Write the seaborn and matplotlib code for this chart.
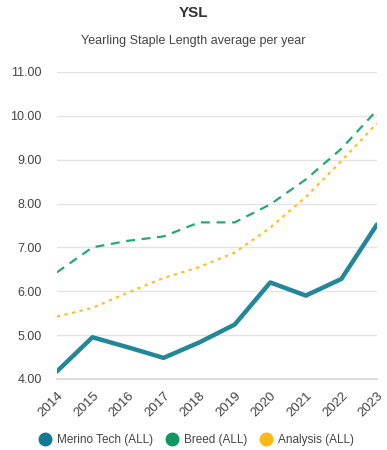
import matplotlib
matplotlib.use("Agg")
import matplotlib.pyplot as plt
import seaborn as sns
import pandas as pd
from matplotlib.lines import Line2D

years = [2014, 2015, 2016, 2017, 2018, 2019, 2020, 2021, 2022, 2023]
merino = [4.17, 4.95, 4.72, 4.48, 4.83, 5.24, 6.20, 5.90, 6.28, 7.52]
breed = [6.43, 7.00, 7.15, 7.25, 7.57, 7.57, 7.98, 8.55, 9.25, 10.13]
analysis = [5.42, 5.62, 5.97, 6.30, 6.55, 6.88, 7.45, 8.15, 8.97, 9.83]
names = ["Merino Tech (ALL)", "Breed (ALL)", "Analysis (ALL)"]

sns.set_style("white")
plt.rcParams["font.family"] = ["Liberation Sans", "DejaVu Sans"]

df = pd.DataFrame({"year": years, names[0]: merino, names[1]: breed, names[2]: analysis})

fig = plt.figure(figsize=(3.87, 4.5), dpi=100)
ax = fig.add_axes([0.147, 0.158, 0.827, 0.682])

sns.lineplot(data=df, x="year", y=names[1], ax=ax, color="#25a878", lw=1.6,
             linestyle=(0, (4, 3)))
sns.lineplot(data=df, x="year", y=names[2], ax=ax, color="#fcc02e", lw=1.6,
             linestyle=(0, (1.5, 2)))
sns.lineplot(data=df, x="year", y=names[0], ax=ax, color="#23879a", lw=3.2)

ax.set_xlim(2014, 2023)
ax.set_ylim(4, 11)
ax.set_yticks(range(4, 12))
ax.set_yticklabels([f"{v:.2f}" for v in range(4, 12)], fontsize=9, color="#444444")
ax.set_xticks(years)
ax.set_xticklabels([str(y) for y in years], rotation=45, ha="right",
                   rotation_mode="anchor", fontsize=9.5, color="#444444")
ax.tick_params(axis="y", length=0, pad=11)
ax.tick_params(axis="x", length=5, color="#dddddd", pad=3)
ax.grid(axis="y", color="#e3e3e3", lw=1)
ax.set_xlabel("")
ax.set_ylabel("")
for s in ["top", "right", "left"]:
    ax.spines[s].set_visible(False)
ax.spines["bottom"].set_color("#dddddd")
ax.spines["bottom"].set_linewidth(1.5)

fig.text(0.5, 0.972, "YSL", ha="center", va="center", fontsize=11,
         fontweight="heavy", color="#333333")
fig.text(0.5, 0.908, "Yearling Staple Length average per year", ha="center",
         va="center", fontsize=9, color="#444444")

handles = [Line2D([], [], marker="o", ls="", ms=9, color=c)
           for c in ["#137a93", "#0f9960", "#fdb913"]]
fig.legend(handles, names, loc="center", bbox_to_anchor=(0.5, 0.022), ncol=3,
           frameon=False, fontsize=8.5, handletextpad=0.0, columnspacing=0.6,
           labelcolor="#444444")

fig.savefig("out.png", dpi=100)
